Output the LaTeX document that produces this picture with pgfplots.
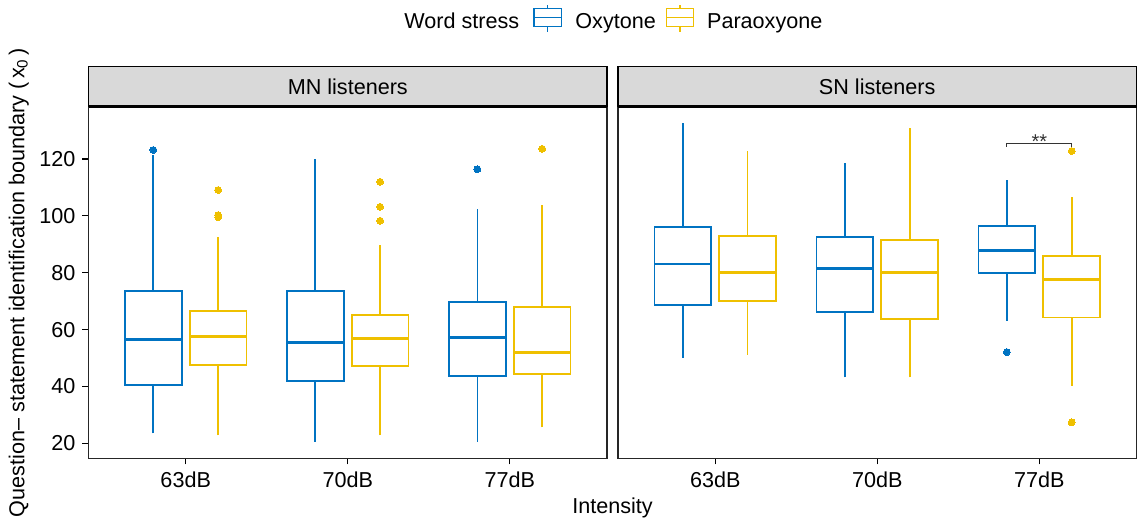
\documentclass[border=0pt]{standalone}
\usepackage{fontspec}
\setmainfont{Liberation Sans}
\usepackage{pgfplots}
\pgfplotsset{compat=1.18}
\definecolor{oxblue}{HTML}{0073C2}
\definecolor{paryel}{HTML}{EFC000}
\definecolor{stripgray}{HTML}{D9D9D9}
\newcommand{\fs}{\fontsize{10.8}{13}\selectfont}
% box: #1 colour, #2 position, #3 lower whisker, #4 lower quartile, #5 median, #6 upper quartile, #7 upper whisker
\newcommand{\bxp}[7]{%
  \pgfmathsetmacro\xl{#2-0.175}%
  \pgfmathsetmacro\xr{#2+0.175}%
  \addplot[#1, line width=0.85pt] coordinates {(#2,#3) (#2,#4)};
  \addplot[#1, line width=0.85pt] coordinates {(#2,#6) (#2,#7)};
  \addplot[#1, line width=0.85pt, line cap=rect, line join=miter] coordinates {(\xl,#4) (\xr,#4) (\xr,#6) (\xl,#6) (\xl,#4)};
  \addplot[#1, line width=1.4pt] coordinates {(\xl,#5) (\xr,#5)};
}
\begin{document}
\begin{tikzpicture}
\useasboundingbox (0,0) rectangle (568.5pt,-260pt);
\pgfplotsset{
  panel/.style={
    scale only axis, width=259.25pt, height=175.8pt,
    anchor=south west,
    xmin=0.4, xmax=3.6, ymin=14.75, ymax=138.4,
    xtick={1,2,3}, xticklabels={63dB,70dB,77dB},
    tick align=outside, tick pos=left,
    major tick length=3pt,
    every tick/.style={black, line width=0.6pt},
    axis line style={line width=0.6pt, black!85},
    tick label style={font=\fs, black},
    /pgf/number format/assume math mode=true,
    clip=false,
  },
  outl/.style={only marks, color=#1, mark=*, mark size=1.7pt, mark options={solid, fill=#1, draw=#1, line width=0pt}},
}
% ---------- MN listeners ----------
\begin{axis}[panel, at={(44.25pt,-229.15pt)}, ytick={20,40,60,80,100,120}]
\bxp{oxblue}{0.8}{23.5}{40.5}{56.4}{73.6}{121.4}
\addplot[outl=oxblue] coordinates {(0.8,123.2)};
\bxp{paryel}{1.2}{22.8}{47.6}{57.7}{66.6}{92.7}
\addplot[outl=paryel] coordinates {(1.2,109.1) (1.2,100.3) (1.2,99.5)};
\bxp{oxblue}{1.8}{20.5}{41.9}{55.4}{73.6}{119.9}
\bxp{paryel}{2.2}{22.8}{47.2}{56.8}{65.2}{89.6}
\addplot[outl=paryel] coordinates {(2.2,112.0) (2.2,103.2) (2.2,98.3)};
\bxp{oxblue}{2.8}{20.5}{43.8}{57.3}{69.7}{102.3}
\addplot[outl=oxblue] coordinates {(2.8,116.4)};
\bxp{paryel}{3.2}{25.6}{44.3}{52.0}{68.0}{103.7}
\addplot[outl=paryel] coordinates {(3.2,123.6)};
\end{axis}
% ---------- SN listeners ----------
\begin{axis}[panel, at={(309pt,-229.15pt)}, ytick=\empty]
\bxp{oxblue}{0.8}{50.1}{68.6}{83.1}{96.0}{132.6}
\bxp{paryel}{1.2}{51.1}{70.1}{80.1}{93.0}{122.8}
\bxp{oxblue}{1.8}{43.2}{66.3}{81.6}{92.6}{118.5}
\bxp{paryel}{2.2}{43.2}{63.7}{80.1}{91.5}{131.0}
\bxp{oxblue}{2.8}{63.1}{79.8}{87.9}{96.4}{112.6}
\addplot[outl=oxblue] coordinates {(2.8,52.1)};
\bxp{paryel}{3.2}{40.3}{64.3}{77.7}{85.8}{106.7}
\addplot[outl=paryel] coordinates {(3.2,122.8) (3.2,27.4)};
\addplot[black!80, line width=0.5pt] coordinates {(2.8,124.3) (2.8,125.5) (3.2,125.5) (3.2,124.3)};
\node[anchor=base, inner sep=0, font=\fontsize{10}{12}\selectfont, black!80] at (axis cs:3,123.8) {**};
\end{axis}
% ---------- strips ----------
\draw[fill=stripgray, line width=0.7pt] (44.25pt,-53.35pt) rectangle (303.5pt,-33.35pt);
\draw[line width=1.3pt] (44.25pt,-53.35pt) -- (303.5pt,-53.35pt);
\node[font=\fs, inner sep=0] at (173.9pt,-43.35pt) {MN listeners};
\draw[fill=stripgray, line width=0.7pt] (309pt,-53.35pt) rectangle (568.25pt,-33.35pt);
\draw[line width=1.3pt] (309pt,-53.35pt) -- (568.25pt,-53.35pt);
\node[font=\fs, inner sep=0] at (438.6pt,-43.35pt) {SN listeners};
% ---------- axis titles ----------
\node[font=\fs, inner sep=0, anchor=base] at (306.25pt,-256.65pt) {Intensity};
\node[font=\fs, inner sep=0, anchor=base, rotate=90] at (12.2pt,-141.25pt) {Question– statement identification boundary (\,x\textsubscript{0}\,)};
% ---------- legend ----------
\node[font=\fs, inner sep=0, anchor=base west] at (202pt,-14.15pt) {Word stress};
\begin{scope}[oxblue, line width=0.6pt]
\draw (273.9pt,-2.5pt) -- (273.9pt,-4.15pt);
\draw (273.9pt,-13.35pt) -- (273.9pt,-15.85pt);
\draw (267pt,-4.15pt) rectangle (280.85pt,-13.35pt);
\draw (267pt,-8.65pt) -- (280.85pt,-8.65pt);
\end{scope}
\node[font=\fs, inner sep=0, anchor=base west] at (287.5pt,-14.15pt) {Oxytone};
\begin{scope}[paryel, line width=0.6pt]
\draw (340pt,-2.5pt) -- (340pt,-4.15pt);
\draw (340pt,-13.35pt) -- (340pt,-15.85pt);
\draw (333.35pt,-4.15pt) rectangle (346.65pt,-13.35pt);
\draw (333.35pt,-8.65pt) -- (346.65pt,-8.65pt);
\end{scope}
\node[font=\fs, inner sep=0, anchor=base west] at (353.35pt,-14.15pt) {Paraoxyone};
\end{tikzpicture}
\end{document}
